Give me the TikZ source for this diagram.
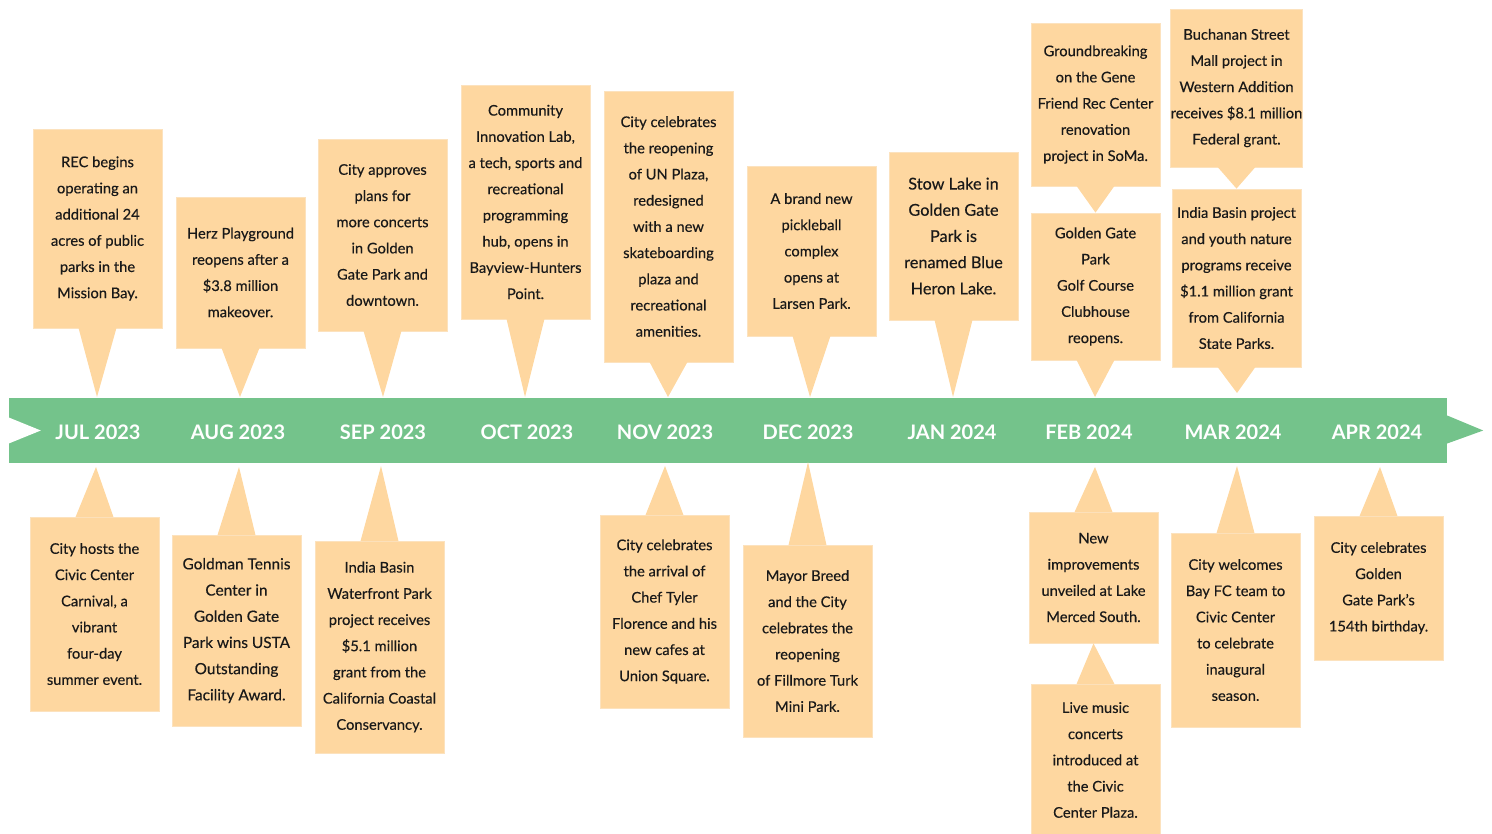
\documentclass[tikz,border=0pt]{standalone}
\usepackage{fontspec}
\setmainfont{Lato}
\newfontfamily\evfont{Lato}[FakeBold=0.3]
\usepackage{xcolor}
\usetikzlibrary{calc}

\definecolor{bandgreen}{HTML}{74C38B}
\definecolor{peach}{HTML}{FED7A0}
\definecolor{peachedge}{HTML}{FCE2BE}

\begin{document}
\begin{tikzpicture}[
    x=1pt, y=-1pt,
    event/.style={fill=peach, draw=peachedge, line width=0.8pt, align=center,
      inner sep=0pt, minimum width=129pt, text=black!90,
      font=\evfont\fontsize{14.7}{26.2}\selectfont},
    pointer/.style={fill=peach},
    band/.style={fill=bandgreen, inner sep=0pt, minimum width=1438pt, minimum height=65pt},
    month/.style={text=white, font=\fontsize{20}{24}\selectfont\bfseries}
  ]
    \useasboundingbox (0,0) rectangle (1492,834);

    % Timeline band with notch and arrow head
    \node[band] (band) at (728,430.5) {};
    \fill[white] (band.west) ++(0,-13) -- ++(32,13) -- ++(-32,13) -- cycle;
    \fill[bandgreen] ($(band.east)+(0,-15)$) -- ($(band.east)+(36,0)$) -- ($(band.east)+(0,13)$) -- cycle;

    % Month labels
    \node[month] (m1)  at (98,432)   {JUL 2023};
    \node[month] (m2)  at (238,432)  {AUG 2023};
    \node[month] (m3)  at (383,432)  {SEP 2023};
    \node[month] (m4)  at (527,432)  {OCT 2023};
    \node[month] (m5)  at (665,432)  {NOV 2023};
    \node[month] (m6)  at (808,432)  {DEC 2023};
    \node[month] (m7)  at (952,432)  {JAN 2024};
    \node[month] (m8)  at (1089,432) {FEB 2024};
    \node[month] (m9)  at (1233,432) {MAR 2024};
    \node[month] (m10) at (1377,432) {APR 2024};

    % Upper events
    \node[event, minimum height=199pt] (julup) at (97.5,228.5)
      {REC begins\\operating an\\additional 24\\acres of public\\parks in the\\Mission Bay.};
    \node[event, minimum height=151pt] (augup) at (240.5,272.5)
      {Herz Playground\\reopens after a\\\$3.8 million\\makeover.};
    \node[event, minimum height=192pt] (sepup) at (382.5,235)
      {City approves\\plans for\\more concerts\\in Golden\\Gate Park and\\downtown.};
    \node[event, minimum height=234pt] (octup) at (525.5,202)
      {Community\\Innovation Lab,\\a tech, sports and\\recreational\\programming\\hub, opens in\\Bayview-Hunters\\Point.};
    \node[event, minimum height=271pt] (novup) at (668.5,226.5)
      {City celebrates\\the reopening\\of UN Plaza,\\redesigned\\with a new\\skateboarding\\plaza and\\recreational\\amenities.};
    \node[event, minimum height=170pt] (decup) at (811.5,251)
      {A brand new\\pickleball\\complex\\opens at\\Larsen Park.};
    \node[event, minimum height=168pt, font=\evfont\fontsize{16.3}{26.2}\selectfont] (janup) at (953.5,236)
      {Stow Lake in\\Golden Gate\\Park is\\renamed Blue\\Heron Lake.};
    \node[event, minimum height=163pt] (febtop) at (1095.5,104.5)
      {Groundbreaking\\on the Gene\\Friend Rec Center\\renovation\\project in SoMa.};
    \node[event, minimum height=147pt] (febup) at (1095.5,286.5)
      {Golden Gate\\Park\\Golf Course\\Clubhouse\\reopens.};
    \node[event, minimum height=158pt] (martop) at (1236.5,88)
      {Buchanan Street\\Mall project in\\Western Addition\\receives \$8.1 million\\Federal grant.};
    \node[event, minimum height=178pt] (marup) at (1236.5,278)
      {India Basin project\\and youth nature\\programs receive\\\$1.1 million grant\\from California\\State Parks.};

    % Lower events
    \node[event, minimum height=194pt] (juldn) at (94.5,614)
      {City hosts the\\Civic Center\\Carnival, a\\vibrant\\four-day\\summer event.};
    \node[event, minimum height=191pt, font=\evfont\fontsize{15.4}{26.2}\selectfont] (augdn) at (236.5,630.5)
      {Goldman Tennis\\Center in\\Golden Gate\\Park wins USTA\\Outstanding\\Facility Award.};
    \node[event, minimum height=212pt] (sepdn) at (379.5,647)
      {India Basin\\Waterfront Park\\project receives\\\$5.1 million\\grant from the\\California Coastal\\Conservancy.};
    \node[event, minimum height=193pt] (novdn) at (664.5,611.5)
      {City celebrates\\the arrival of\\Chef Tyler\\Florence and his\\new cafes at\\Union Square.};
    \node[event, minimum height=192pt] (decdn) at (807.5,641)
      {Mayor Breed\\and the City\\celebrates the\\reopening\\of Fillmore Turk\\Mini Park.};
    \node[event, minimum height=131pt] (febdn) at (1093.5,577.5)
      {New\\improvements\\unveiled at Lake\\Merced South.};
    \node[event, minimum height=152pt] (febbot) at (1095.5,760)
      {Live music\\concerts\\introduced at\\the Civic\\Center Plaza.};
    \node[event, minimum height=194pt] (mardn) at (1235.5,630)
      {City welcomes\\Bay FC team to\\Civic Center\\to celebrate\\inaugural\\season.};
    \node[event, minimum height=144pt] (aprdn) at (1378.5,588)
      {City celebrates\\Golden\\Gate Park’s\\154th birthday.};

    % Pointer tips
    \coordinate (tjulup) at (97,397);
    \coordinate (taugup) at (240,397);
    \coordinate (tsepup) at (383,397);
    \coordinate (toctup) at (525,397);
    \coordinate (tnovup) at (668,397);
    \coordinate (tdecup) at (810,397);
    \coordinate (tjanup) at (953,397);
    \coordinate (tfebup) at (1095,397);
    \coordinate (tmarup) at (1237,393);
    \coordinate (tjuldn) at (96,467);
    \coordinate (taugdn) at (239,467);
    \coordinate (tsepdn) at (381,466);
    \coordinate (tnovdn) at (665,466);
    \coordinate (tdecdn) at (808,462);
    \coordinate (tfebdn) at (1095,467);
    \coordinate (tmardn) at (1237,466);
    \coordinate (taprdn) at (1380,467);

    % Pointers from boxes to the band
    \foreach \b in {julup,augup,sepup,octup,novup,decup,janup,febup,marup}
      \fill[pointer] ($(\b.south)+(-19,-0.5)$) -- (t\b) -- ($(\b.south)+(19,-0.5)$) -- cycle;
    \foreach \b in {juldn,augdn,sepdn,novdn,decdn,febdn,mardn,aprdn}
      \fill[pointer] ($(\b.north)+(-19,0.5)$) -- (t\b) -- ($(\b.north)+(19,0.5)$) -- cycle;

    % Pointers between stacked boxes
    \fill[pointer] ($(febtop.south)+(-19,-0.5)$) -- (febup.north) -- ($(febtop.south)+(19,-0.5)$) -- cycle;
    \fill[pointer] ($(martop.south)+(-19,-0.5)$) -- (marup.north) -- ($(martop.south)+(19,-0.5)$) -- cycle;
    \fill[pointer] ($(febbot.north)+(-19,0.5)$) -- (febdn.south) -- ($(febbot.north)+(19,0.5)$) -- cycle;
  \end{tikzpicture}
\end{document}
